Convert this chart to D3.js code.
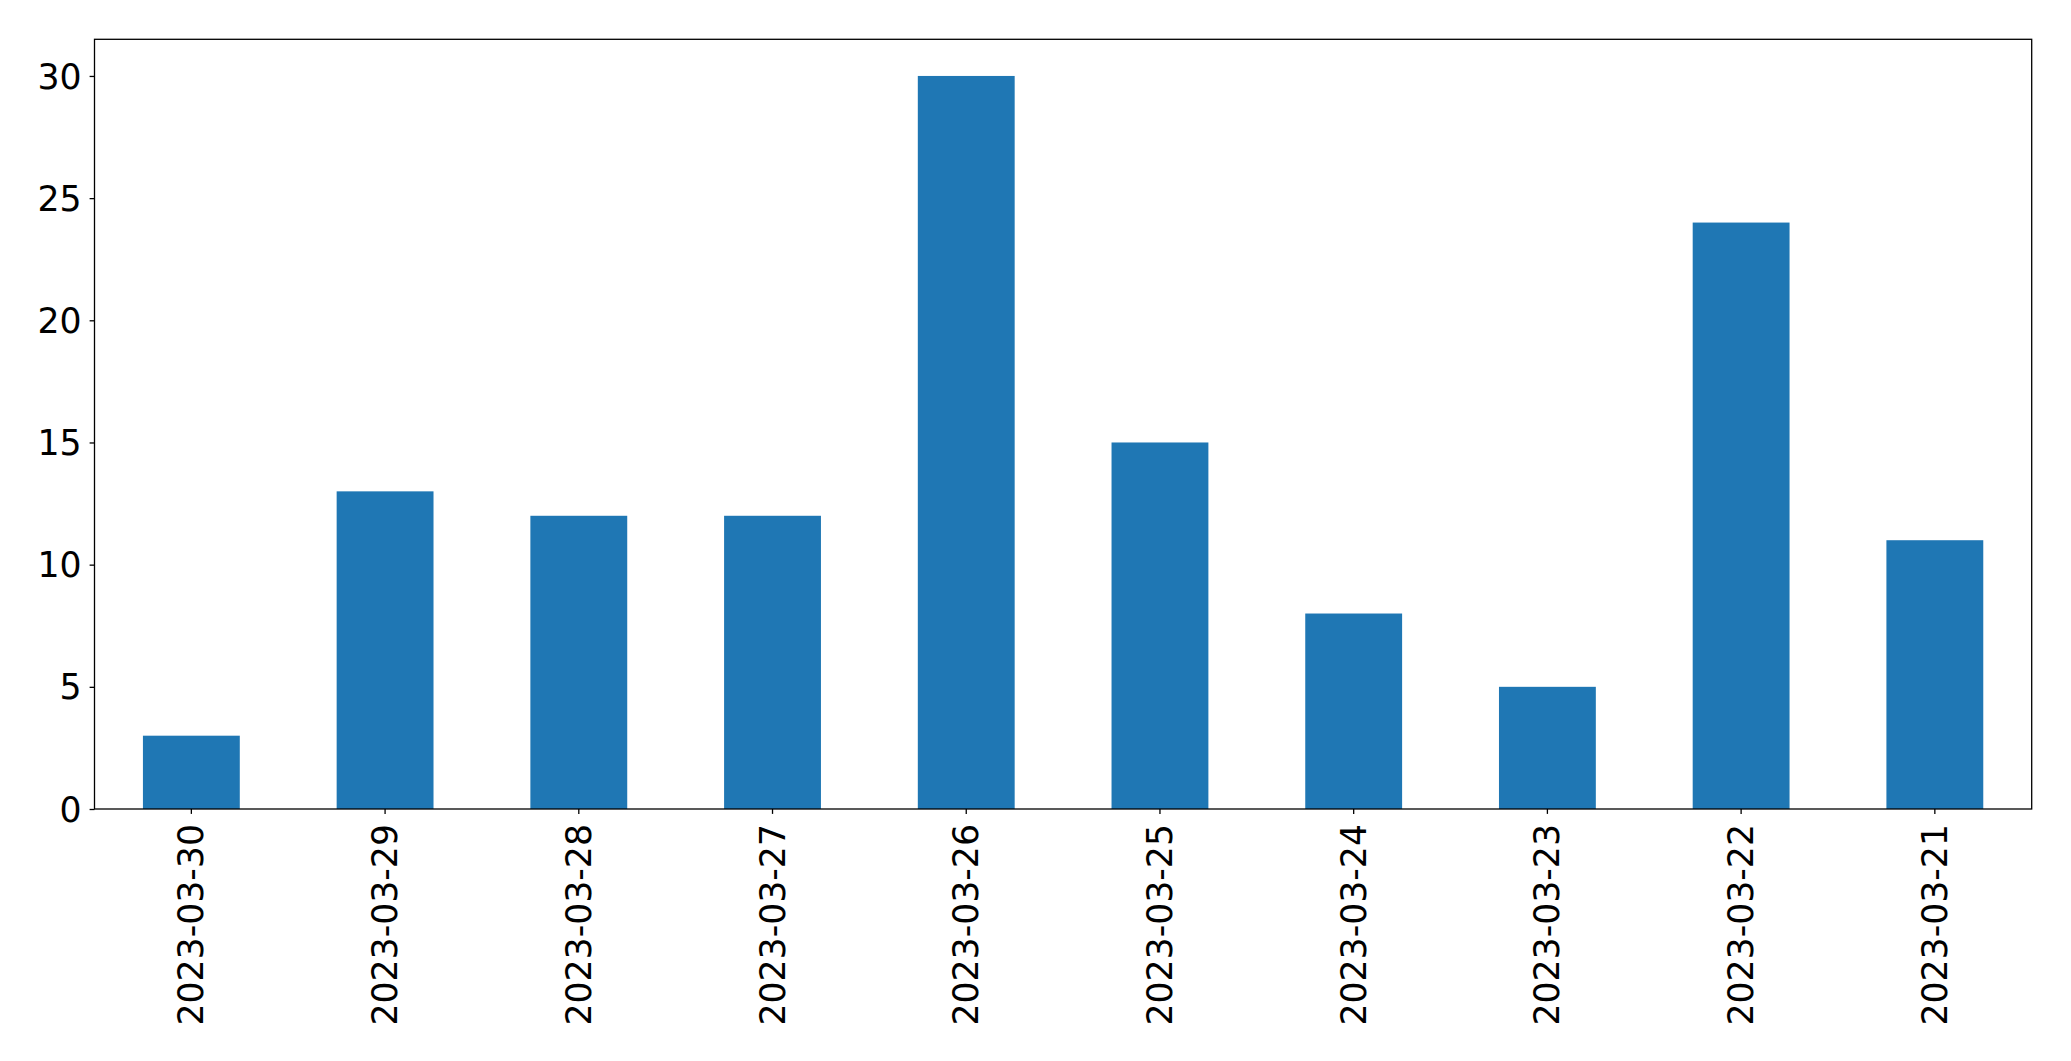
<!DOCTYPE html>
<html>
<head>
<meta charset="utf-8">
<script src="https://cdn.jsdelivr.net/npm/d3@7"></script>
<style>
  html, body { margin: 0; padding: 0; background: #fff; }
  svg { display: block; }
  text { font-family: "DejaVu Sans", sans-serif; fill: #000; }
</style>
</head>
<body>
<script>
const categories = ["2023-03-30","2023-03-29","2023-03-28","2023-03-27","2023-03-26","2023-03-25","2023-03-24","2023-03-23","2023-03-22","2023-03-21"];
const values = [3, 13, 12, 12, 30, 15, 8, 5, 24, 11];
const yTicks = [0, 5, 10, 15, 20, 25, 30];

const W = 2071, H = 1061;
const margin = { left: 94.5, top: 39.3, right: W - 2031.7, bottom: H - 809 };
const iw = W - margin.left - margin.right;
const ih = H - margin.top - margin.bottom;
const fontSize = 34.7;

const svg = d3.select("body").append("svg").attr("width", W).attr("height", H);
const g = svg.append("g").attr("transform", `translate(${margin.left},${margin.top})`);

const x = d3.scaleBand().domain(categories).range([0, iw]).paddingInner(0.5).paddingOuter(0.25);
const y = d3.scaleLinear().domain([0, d3.max(values) * 1.05]).range([ih, 0]);

g.selectAll("rect.bar").data(values).enter().append("rect")
  .attr("class", "bar")
  .attr("x", (d, i) => x(categories[i]))
  .attr("width", x.bandwidth())
  .attr("y", d => y(d))
  .attr("height", d => ih - y(d))
  .attr("fill", "#1f77b4");

// Y axis
const yAxis = g.append("g").call(d3.axisLeft(y).tickValues(yTicks).tickSize(4.9).tickPadding(8).tickFormat(d3.format("d")));
yAxis.select(".domain").remove();
yAxis.selectAll("line").attr("stroke", "#000").attr("stroke-width", 1.3);
yAxis.selectAll("text").attr("font-size", fontSize).attr("font-family", "DejaVu Sans").attr("fill", "#000").attr("dy", "0.35em");

// X axis
const xAxis = g.append("g").attr("transform", `translate(0,${ih})`).call(d3.axisBottom(x).tickSize(4.9).tickPadding(0));
xAxis.select(".domain").remove();
xAxis.selectAll("line").attr("stroke", "#000").attr("stroke-width", 1.3);
xAxis.selectAll("text")
  .attr("font-size", fontSize).attr("font-family", "DejaVu Sans").attr("fill", "#000")
  .attr("text-anchor", "end")
  .attr("dy", null)
  .attr("dominant-baseline", "central")
  .attr("transform", "translate(0,15) rotate(-90)")
  .attr("x", 0).attr("y", 0);

// Frame
g.append("rect").attr("x", 0).attr("y", 0).attr("width", iw).attr("height", ih)
  .attr("fill", "none").attr("stroke", "#000").attr("stroke-width", 1.3);
</script>
</body>
</html>
